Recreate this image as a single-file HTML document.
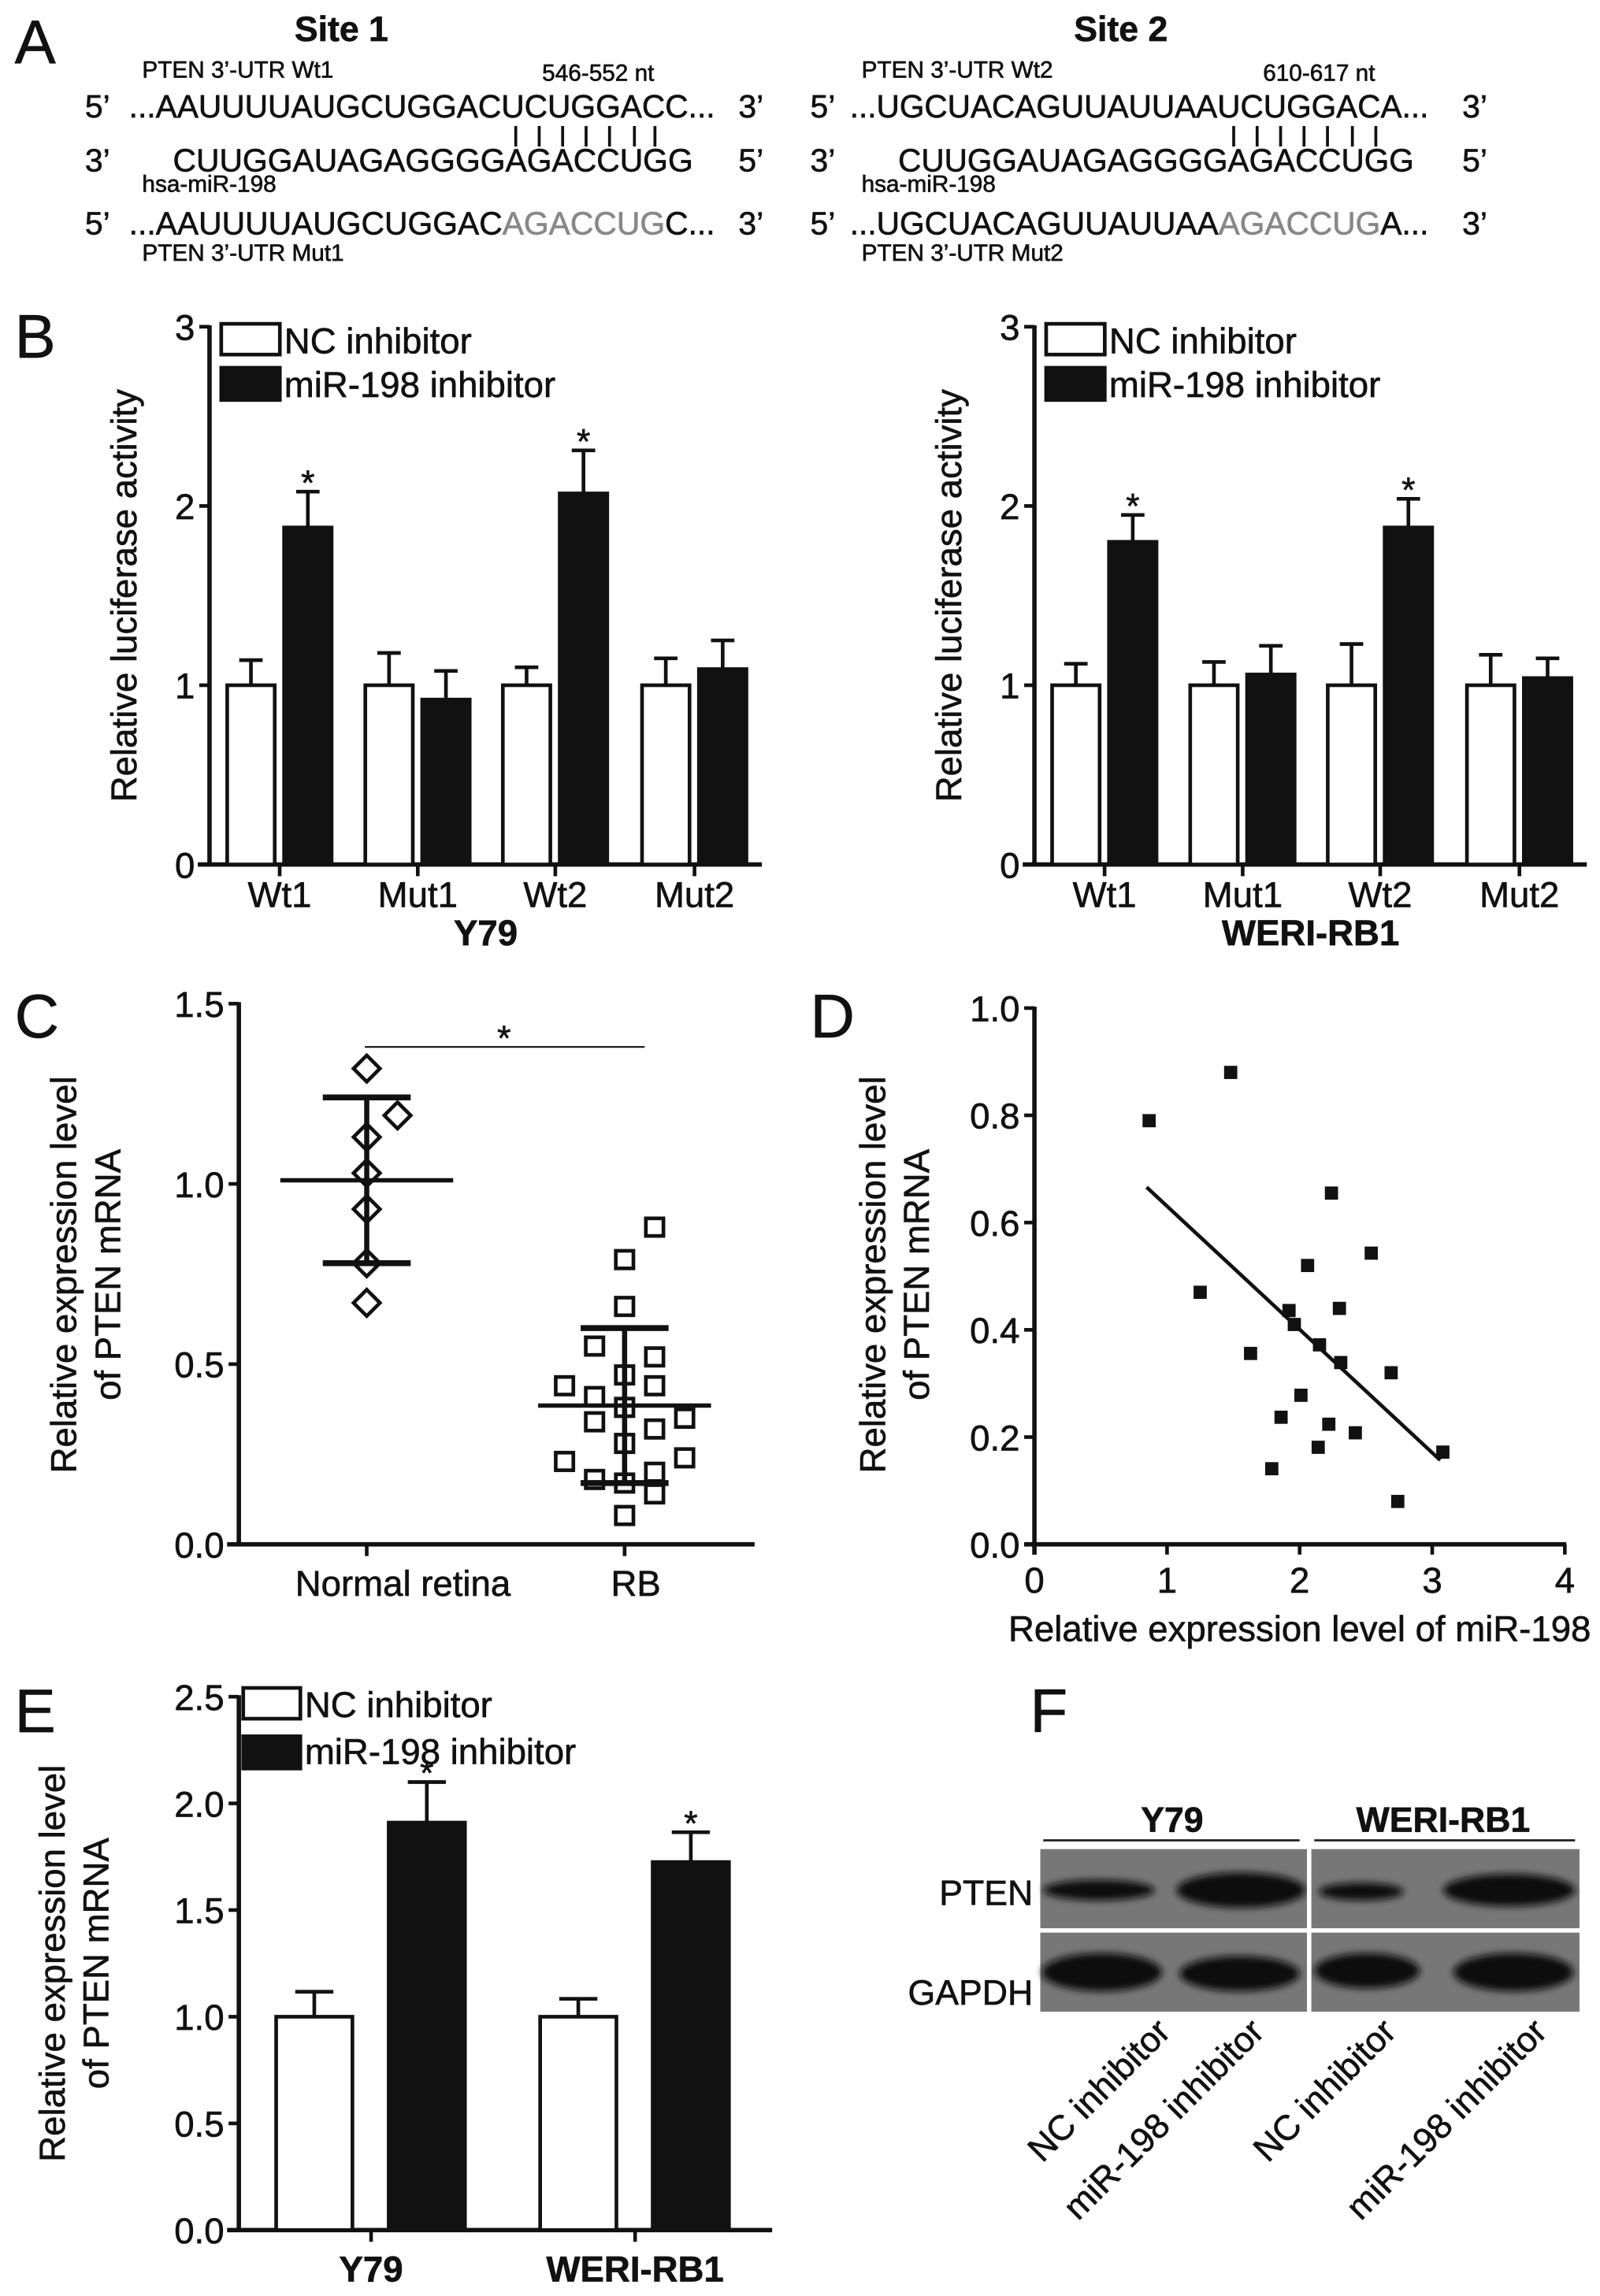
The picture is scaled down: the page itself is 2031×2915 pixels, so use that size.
<!DOCTYPE html>
<html><head><meta charset="utf-8">
<style>
html,body{margin:0;padding:0;background:#fff;}
svg{display:block;}
text{font-family:"Liberation Sans",Arial,sans-serif;fill:#111;stroke:#111;stroke-width:0.35;}
</style></head>
<body>
<svg id="fig" width="2031" height="2915" viewBox="0 0 1092 1567" preserveAspectRatio="none" xmlns="http://www.w3.org/2000/svg">
<rect width="1092" height="1567" fill="#fff"/>
<!-- Panel A -->
<g>
<text x="10" y="43" font-size="42">A</text>
<text x="233" y="28" font-size="24" font-weight="bold" text-anchor="middle">Site 1</text>
<text x="765" y="28" font-size="24" font-weight="bold" text-anchor="middle">Site 2</text>
<g font-size="16">
<text x="97" y="53">PTEN 3’-UTR Wt1</text>
<text x="370" y="55">546-552 nt</text>
<text x="97" y="131">hsa-miR-198</text>
<text x="97" y="178">PTEN 3’-UTR Mut1</text>
<text x="588" y="53">PTEN 3’-UTR Wt2</text>
<text x="862" y="55">610-617 nt</text>
<text x="588" y="131">hsa-miR-198</text>
<text x="588" y="178">PTEN 3’-UTR Mut2</text>
</g>
<g font-size="22">
<text x="58" y="80">5’</text><text x="504" y="80">3’</text>
<text x="58" y="117">3’</text><text x="504" y="117">5’</text>
<text x="58" y="160">5’</text><text x="504" y="160">3’</text>
<text x="88" y="80" textLength="400" lengthAdjust="spacingAndGlyphs">...AAUUUUAUGCUGGACUCUGGACC...</text>
<text x="118" y="117" textLength="355" lengthAdjust="spacingAndGlyphs">CUUGGAUAGAGGGGAGACCUGG</text>
<text x="88" y="160" textLength="400" lengthAdjust="spacingAndGlyphs">...AAUUUUAUGCUGGAC<tspan fill="#888" stroke="#888">AGACCUG</tspan>C...</text>
<text x="553" y="80">5’</text><text x="998" y="80">3’</text>
<text x="553" y="117">3’</text><text x="998" y="117">5’</text>
<text x="553" y="160">5’</text><text x="998" y="160">3’</text>
<text x="580" y="80" textLength="395" lengthAdjust="spacingAndGlyphs">...UGCUACAGUUAUUAAUCUGGACA...</text>
<text x="613" y="117" textLength="352" lengthAdjust="spacingAndGlyphs">CUUGGAUAGAGGGGAGACCUGG</text>
<text x="580" y="160" textLength="395" lengthAdjust="spacingAndGlyphs">...UGCUACAGUUAUUAA<tspan fill="#888" stroke="#888">AGACCUG</tspan>A...</text>
</g>
<g id="pipes" stroke="#111" stroke-width="2"></g>
</g>
<g id="dyn"></g>
<!-- Panel F blot -->
<g>
<text x="703" y="1182" font-size="42">F</text>
<text x="800" y="1250" font-size="24" font-weight="bold" text-anchor="middle">Y79</text>
<text x="985" y="1250" font-size="24" font-weight="bold" text-anchor="middle">WERI-RB1</text>
<line x1="712" y1="1256" x2="887" y2="1256" stroke="#222" stroke-width="1.5"/>
<line x1="897" y1="1256" x2="1075" y2="1256" stroke="#222" stroke-width="1.5"/>
<defs><filter id="blur" x="-20%" y="-50%" width="140%" height="200%"><feGaussianBlur stdDeviation="2.5"/></filter></defs>
<rect x="710" y="1262" width="368" height="111" fill="#777"/>
<g filter="url(#blur)" fill="#111">
<ellipse cx="750" cy="1290" rx="38" ry="7"/>
<ellipse cx="847" cy="1290" rx="44" ry="12"/>
<ellipse cx="929" cy="1291" rx="29" ry="6"/>
<ellipse cx="1030" cy="1290" rx="45" ry="11"/>
<ellipse cx="752" cy="1346" rx="41" ry="13"/>
<ellipse cx="846" cy="1347" rx="41" ry="12"/>
<ellipse cx="933" cy="1345" rx="36" ry="12"/>
<ellipse cx="1033" cy="1346" rx="41" ry="13"/>
</g>
<rect x="892" y="1262" width="3" height="111" fill="#fff"/>
<rect x="710" y="1316" width="368" height="3" fill="#fff"/>
<text x="705" y="1300" font-size="24" text-anchor="end">PTEN</text>
<text x="705" y="1368" font-size="24" text-anchor="end">GAPDH</text>
<g font-size="24" text-anchor="end">
<text transform="translate(800,1388) rotate(-45)">NC inhibitor</text>
<text transform="translate(864,1388) rotate(-45)">miR-198 inhibitor</text>
<text transform="translate(954,1388) rotate(-45)">NC inhibitor</text>
<text transform="translate(1057,1388) rotate(-45)">miR-198 inhibitor</text>
</g>
</g>
</svg>
<script>
// ---- data ----
const bGroups = ["Wt1", "Mut1", "Wt2", "Mut2"];
const bY79Nc = [1.0, 1.0, 1.0, 1.0];
const bY79NcErr = [0.14, 0.18, 0.10, 0.15];
const bY79Mir = [1.88, 0.92, 2.07, 1.09];
const bY79MirErr = [0.20, 0.16, 0.24, 0.16];
const bWeriNc = [1.0, 1.0, 1.0, 1.0];
const bWeriNcErr = [0.12, 0.13, 0.23, 0.17];
const bWeriMir = [1.80, 1.06, 1.88, 1.04];
const bWeriMirErr = [0.15, 0.16, 0.16, 0.11];
const bTicks = [0, 1, 2, 3];
const cNormal = [1.32, 1.19, 1.13, 1.03, 0.93, 0.78, 0.67];
const cNormalOffset = [0, 1, 0, 0, 0, 0, 0];
const cRB = [0.88, 0.79, 0.66, 0.55, 0.52, 0.47, 0.44, 0.44, 0.41, 0.38, 0.35, 0.34, 0.32, 0.28, 0.24, 0.23, 0.18, 0.17, 0.20, 0.14, 0.08];
const cRBCol = [2, 1, 1, 0, 2, 1, -1, 2, 0, 1, 3, 0, 2, 1, 3, -1, 0, 1, 2, 2, 1];
const cNormalMean = 1.01, cNormalSD = 0.23;
const cRBMean = 0.385, cRBSDhi = 0.60, cRBSDlo = 0.17;
const cTicks = ["0.0", "0.5", "1.0", "1.5"];
const dX = [0.865, 1.48, 1.25, 1.63, 1.92, 1.96, 2.06, 2.24, 2.54, 2.30, 2.15, 2.31, 2.69, 2.01, 1.86, 2.22, 2.42, 2.14, 1.79, 3.08, 2.74];
const dY = [0.79, 0.88, 0.47, 0.356, 0.436, 0.41, 0.52, 0.655, 0.543, 0.44, 0.372, 0.339, 0.32, 0.278, 0.237, 0.224, 0.208, 0.181, 0.141, 0.172, 0.08];
const dFitX = [0.846, 3.06];
const dFitY = [0.666, 0.157];
const dYTicks = ["0.0", "0.2", "0.4", "0.6", "0.8", "1.0"];
const dXTicks = ["0", "1", "2", "3", "4"];
const eGroups = ["Y79", "WERI-RB1"];
const eNc = [1.0, 1.0];
const eNcErr = [0.117, 0.084];
const eMir = [1.91, 1.725];
const eMirErr = [0.19, 0.14];
const eTicks = ["0.0", "0.5", "1.0", "1.5", "2.0", "2.5"];

const FS = 24.5;
const NS = "http://www.w3.org/2000/svg";
const root = document.getElementById("dyn");
function mk(tag, attrs, parent, txt) {
  const e = document.createElementNS(NS, tag);
  for (const k in attrs) e.setAttribute(k, attrs[k]);
  if (txt !== undefined) e.textContent = txt;
  (parent || root).appendChild(e);
  return e;
}

// pipes
const pipeX = [352, 368, 384, 400, 416, 433, 447, 842, 858, 874, 890, 906, 923, 939];
const pipesG = document.getElementById("pipes");
pipeX.forEach(x => mk("line", {x1: x, y1: 86, x2: x, y2: 100}, pipesG));

// ---------- Panel B ----------
function panelB(x0, title, nc, ncE, mir, mirE, letter) {
  const g = mk("g", {});
  
  
  const W = 377, y0 = 590, yTop = 223;
  const sy = v => y0 - v * (y0 - yTop) / 3;
  if (letter) {
    const t = mk("text", {x: 10, y: 244, "font-size": 42}, g, "B");
    
    
  }
  mk("line", {x1: x0, y1: yTop - 1, x2: x0, y2: y0, stroke: "#111", "stroke-width": 3}, g);
  mk("line", {x1: x0 - 8, y1: y0, x2: x0 + W, y2: y0, stroke: "#111", "stroke-width": 3}, g);
  bTicks.forEach(v => {
    mk("line", {x1: x0 - 7, y1: sy(v), x2: x0, y2: sy(v), stroke: "#111", "stroke-width": 2.5}, g);
    const t = mk("text", {x: x0 - 10, y: sy(v) + 9, "font-size": FS, "text-anchor": "end"}, g, String(v));
    
    
  });
  const yl = mk("text", {transform: `translate(${x0 - 50},${(y0 + yTop) / 2}) rotate(-90)`, "font-size": FS, "text-anchor": "middle"}, g, "Relative luciferase activity");
  
  
  const fr = [0.127, 0.377, 0.626, 0.878];
  const bw = 0.086 * W;
  bGroups.forEach((name, i) => {
    const tx = x0 + fr[i] * W;
    mk("line", {x1: tx, y1: y0, x2: tx, y2: y0 + 8, stroke: "#111", "stroke-width": 2.5}, g);
    const lab = mk("text", {x: tx, y: 619, "font-size": FS, "text-anchor": "middle"}, g, name);
    
    
    [[nc[i], ncE[i], tx - 0.095 * W, "#fff"], [mir[i], mirE[i], tx + 0.008 * W, "#111"]].forEach(([v, e, bx, fill], k) => {
      const cx = bx + bw / 2;
      mk("line", {x1: cx, y1: sy(v), x2: cx, y2: sy(v + e), stroke: "#111", "stroke-width": 2.5}, g);
      mk("line", {x1: cx - 8, y1: sy(v + e), x2: cx + 8, y2: sy(v + e), stroke: "#111", "stroke-width": 2.5}, g);
      const r = mk("rect", {x: bx, y: sy(v), width: bw, height: sy(0) - sy(v), fill: fill, stroke: "#111", "stroke-width": 2.5}, g);
      
      
      if (k === 1 && (i === 0 || i === 2)) {
        const s = mk("text", {x: cx, y: sy(v + e) + 2, "font-size": 24, "text-anchor": "middle"}, g, "*");
        
        
      }
    });
  });
  // legend
  mk("rect", {x: x0 + 8, y: 221, width: 40, height: 21, fill: "#fff", stroke: "#111", "stroke-width": 2.5}, g);
  mk("rect", {x: x0 + 8, y: 251, width: 40, height: 22, fill: "#111", stroke: "#111", "stroke-width": 2.5}, g);
  const l1 = mk("text", {x: x0 + 51, y: 241, "font-size": FS}, g, "NC inhibitor");
  
  
  const l2 = mk("text", {x: x0 + 51, y: 271, "font-size": FS}, g, "miR-198 inhibitor");
  
  
  const xt = mk("text", {x: x0 + 0.5 * W, y: 645, "font-size": FS, "font-weight": "bold", "text-anchor": "middle"}, g, title);
  
  
}
panelB(143, "Y79", bY79Nc, bY79NcErr, bY79Mir, bY79MirErr, true);
panelB(706, "WERI-RB1", bWeriNc, bWeriNcErr, bWeriMir, bWeriMirErr, false);

// ---------- Panel C ----------
(function () {
  const g = mk("g", {});
  
  
  const x0 = 163, W = 352, y0 = 1054, yTop = 685;
  const sy = v => y0 - v * (y0 - yTop) / 1.5;
  const t = mk("text", {x: 10, y: 708, "font-size": 42}, g, "C");
  
  
  mk("line", {x1: x0, y1: yTop - 1, x2: x0, y2: y0, stroke: "#111", "stroke-width": 3}, g);
  mk("line", {x1: x0 - 8, y1: y0, x2: x0 + W, y2: y0, stroke: "#111", "stroke-width": 3}, g);
  cTicks.forEach(s => {
    const v = parseFloat(s);
    mk("line", {x1: x0 - 7, y1: sy(v), x2: x0, y2: sy(v), stroke: "#111", "stroke-width": 2.5}, g);
    const l = mk("text", {x: x0 - 10, y: sy(v) + 9, "font-size": FS, "text-anchor": "end"}, g, s);
    
    
  });
  const a = mk("text", {transform: `translate(52,870) rotate(-90)`, "font-size": FS, "text-anchor": "middle"}, g, "Relative expression level");
  
  
  const b = mk("text", {transform: `translate(82,870) rotate(-90)`, "font-size": FS, "text-anchor": "middle"}, g, "of PTEN mRNA");
  
  
  const nx = x0 + 0.248 * W, rx = x0 + 0.748 * W;
  [nx, rx].forEach(x => mk("line", {x1: x, y1: y0, x2: x, y2: y0 + 8, stroke: "#111", "stroke-width": 2.5}, g));
  const l1 = mk("text", {x: 275, y: 1089, "font-size": FS, "text-anchor": "middle"}, g, "Normal retina");
  
  
  const l2 = mk("text", {x: 434, y: 1089, "font-size": FS, "text-anchor": "middle"}, g, "RB");
  
  
  cNormal.forEach((v, i) => {
    const cx = nx + cNormalOffset[i] * 21, cy = sy(v);
    const p = mk("polygon", {points: `${cx},${cy - 9} ${cx + 9},${cy} ${cx},${cy + 9} ${cx - 9},${cy}`, fill: "none", stroke: "#111", "stroke-width": 2.5}, g);
    
    
  });
  cRB.forEach((v, i) => {
    const cx = rx + cRBCol[i] * 20.5 - 20.5, cy = sy(v);
    const p = mk("rect", {x: cx - 6, y: cy - 6, width: 12, height: 12, fill: "none", stroke: "#111", "stroke-width": 2.5}, g);
    
    
  });
  function stat(cx, m, hi, lo, half) {
    mk("line", {x1: cx - half, y1: sy(m), x2: cx + half, y2: sy(m), stroke: "#111", "stroke-width": 3}, g);
    mk("line", {x1: cx, y1: sy(hi), x2: cx, y2: sy(lo), stroke: "#111", "stroke-width": 3.5}, g);
    mk("line", {x1: cx - 30, y1: sy(hi), x2: cx + 30, y2: sy(hi), stroke: "#111", "stroke-width": 4}, g);
    mk("line", {x1: cx - 30, y1: sy(lo), x2: cx + 30, y2: sy(lo), stroke: "#111", "stroke-width": 4}, g);
  }
  stat(nx, cNormalMean, cNormalMean + cNormalSD, cNormalMean - cNormalSD, 59);
  stat(rx, cRBMean, cRBSDhi, cRBSDlo, 59);
  mk("line", {x1: 249, y1: sy(1.38), x2: 440, y2: sy(1.38), stroke: "#111", "stroke-width": 1.2}, g);
  const s = mk("text", {x: 344, y: sy(1.38) + 2, "font-size": 24, "text-anchor": "middle"}, g, "*");
  
  
})();

// ---------- Panel D ----------
(function () {
  const g = mk("g", {});
  
  
  const x0 = 706, W = 362, y0 = 1054, yTop = 688;
  const sx = v => x0 + v * W / 4, sy = v => y0 - v * (y0 - yTop);
  const t = mk("text", {x: 553, y: 708, "font-size": 42}, g, "D");
  
  
  mk("line", {x1: x0, y1: yTop - 1, x2: x0, y2: y0 + 7, stroke: "#111", "stroke-width": 3}, g);
  mk("line", {x1: x0 - 7, y1: y0, x2: x0 + W + 1, y2: y0, stroke: "#111", "stroke-width": 3}, g);
  dYTicks.forEach(s => {
    const v = parseFloat(s);
    mk("line", {x1: x0 - 7, y1: sy(v), x2: x0, y2: sy(v), stroke: "#111", "stroke-width": 2.5}, g);
    const l = mk("text", {x: x0 - 10, y: sy(v) + 9, "font-size": FS, "text-anchor": "end"}, g, s);
    
    
  });
  dXTicks.forEach(s => {
    const v = parseFloat(s);
    mk("line", {x1: sx(v), y1: y0, x2: sx(v), y2: y0 + 7, stroke: "#111", "stroke-width": 2.5}, g);
    const l = mk("text", {x: sx(v), y: 1087, "font-size": FS, "text-anchor": "middle"}, g, s);
    
    
  });
  const a = mk("text", {transform: `translate(604,870) rotate(-90)`, "font-size": FS, "text-anchor": "middle"}, g, "Relative expression level");
  
  
  const b = mk("text", {transform: `translate(634,870) rotate(-90)`, "font-size": FS, "text-anchor": "middle"}, g, "of PTEN mRNA");
  
  
  const xt = mk("text", {x: 887, y: 1120, "font-size": FS, "text-anchor": "middle"}, g, "Relative expression level of miR-198");
  
  
  const ln = mk("line", {x1: sx(dFitX[0]), y1: sy(dFitY[0]), x2: sx(dFitX[1]), y2: sy(dFitY[1]), stroke: "#111", "stroke-width": 2.5}, g);
  
  
  dX.forEach((x, i) => {
    const p = mk("rect", {x: sx(x) - 4.5, y: sy(dY[i]) - 4.5, width: 9, height: 9, fill: "#111"}, g);
    
    
  });
})();

// ---------- Panel E ----------
(function () {
  const g = mk("g", {});
  
  
  const x0 = 163, W = 364, y0 = 1522, yTop = 1158;
  const sy = v => y0 - v * (y0 - yTop) / 2.5;
  const t = mk("text", {x: 10, y: 1182, "font-size": 42}, g, "E");
  
  
  mk("line", {x1: x0, y1: yTop - 1, x2: x0, y2: y0, stroke: "#111", "stroke-width": 3}, g);
  mk("line", {x1: x0 - 8, y1: y0, x2: x0 + W, y2: y0, stroke: "#111", "stroke-width": 3}, g);
  eTicks.forEach(s => {
    const v = parseFloat(s);
    mk("line", {x1: x0 - 7, y1: sy(v), x2: x0, y2: sy(v), stroke: "#111", "stroke-width": 2.5}, g);
    const l = mk("text", {x: x0 - 10, y: sy(v) + 9, "font-size": FS, "text-anchor": "end"}, g, s);
    
    
  });
  const a = mk("text", {transform: `translate(44,1340) rotate(-90)`, "font-size": FS, "text-anchor": "middle"}, g, "Relative expression level");
  
  
  const b = mk("text", {transform: `translate(74,1340) rotate(-90)`, "font-size": FS, "text-anchor": "middle"}, g, "of PTEN mRNA");
  
  
  const fr = [0.248, 0.743];
  const bw = 0.143 * W;
  eGroups.forEach((name, i) => {
    const tx = x0 + fr[i] * W;
    mk("line", {x1: tx, y1: y0, x2: tx, y2: y0 + 8, stroke: "#111", "stroke-width": 2.5}, g);
    const lab = mk("text", {x: tx, y: 1557, "font-size": FS, "font-weight": "bold", "text-anchor": "middle"}, g, name);
    
    
    [[eNc[i], eNcErr[i], tx - 0.178 * W, "#fff"], [eMir[i], eMirErr[i], tx + 0.033 * W, "#111"]].forEach(([v, e, bx, fill], k) => {
      const cx = bx + bw / 2;
      mk("line", {x1: cx, y1: sy(v), x2: cx, y2: sy(v + e), stroke: "#111", "stroke-width": 2.5}, g);
      mk("line", {x1: cx - 13, y1: sy(v + e), x2: cx + 13, y2: sy(v + e), stroke: "#111", "stroke-width": 2.5}, g);
      const r = mk("rect", {x: bx, y: sy(v), width: bw, height: sy(0) - sy(v), fill: fill, stroke: "#111", "stroke-width": 2.5}, g);
      
      
      if (k === 1) {
        const s = mk("text", {x: cx, y: sy(v + e) + 2, "font-size": 24, "text-anchor": "middle"}, g, "*");
        
        
      }
    });
  });
  mk("rect", {x: x0 + 3, y: 1152, width: 39, height: 21, fill: "#fff", stroke: "#111", "stroke-width": 2.5}, g);
  mk("rect", {x: x0 + 3, y: 1185, width: 39, height: 22, fill: "#111", stroke: "#111", "stroke-width": 2.5}, g);
  const l1 = mk("text", {x: x0 + 45, y: 1172, "font-size": FS}, g, "NC inhibitor");
  
  
  const l2 = mk("text", {x: x0 + 45, y: 1204, "font-size": FS}, g, "miR-198 inhibitor");
  
  
})();
</script>
</body></html>
